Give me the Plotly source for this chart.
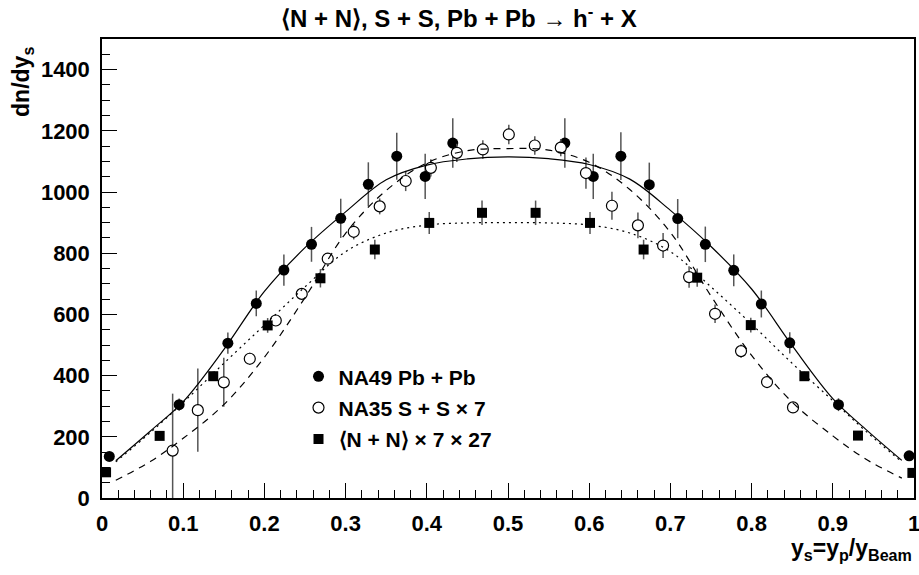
import plotly.graph_objects as go

# ---------------- data ----------------
# NA49 Pb + Pb (filled circles)
pb_x = [0.009, 0.095, 0.155, 0.190, 0.224, 0.258, 0.294, 0.328, 0.363, 0.398, 0.432,
        0.570, 0.605, 0.639, 0.674, 0.709, 0.743, 0.778, 0.812, 0.847, 0.907, 0.994]
pb_y = [136, 305, 506, 636, 745, 829, 914, 1025, 1117, 1051, 1160,
        1160, 1051, 1117, 1024, 913, 829, 744, 634, 507, 305, 138]
pb_e = [10, 20, 35, 42, 51, 57, 64, 72, 77, 74, 81,
        81, 74, 78, 72, 64, 58, 52, 44, 35, 21, 10]

# NA35 S + S x 7 (open circles)
ss_x = [0.087, 0.118, 0.150, 0.182, 0.214, 0.246, 0.278, 0.310, 0.342, 0.374, 0.405,
        0.437, 0.469, 0.501, 0.533, 0.565, 0.596, 0.628, 0.660, 0.691, 0.723, 0.755,
        0.787, 0.819, 0.851]
ss_y = [155, 287, 378, 455, 580, 667, 782, 870, 953, 1036, 1079,
        1128, 1139, 1188, 1152, 1145, 1062, 955, 891, 825, 722, 602,
        480, 379, 296]
ss_e = [186, 136, 80, 20, 15, 15, 17, 25, 26, 33, 28,
        30, 30, 32, 30, 28, 51, 46, 42, 41, 35, 30,
        22, 10, 8]

# <N + N> x 7 x 27 (filled squares)
nn_x = [0.005, 0.071, 0.137, 0.204, 0.269, 0.336, 0.403, 0.468,
        0.534, 0.601, 0.667, 0.733, 0.799, 0.865, 0.931, 0.998]
nn_y = [84, 203, 398, 564, 718, 812, 899, 932,
        932, 899, 812, 720, 565, 398, 204, 82]
nn_e = [4, 8, 15, 24, 30, 32, 36, 40,
        40, 36, 32, 30, 24, 15, 8, 4]

# fitted curves
curve_x = [0.017, 0.06, 0.10, 0.15, 0.20, 0.25, 0.30, 0.35, 0.40, 0.45, 0.50,
           0.55, 0.60, 0.65, 0.70, 0.75, 0.80, 0.85, 0.90, 0.94, 0.985]
solid_y = [122, 220, 315, 485, 675, 818, 935, 1040, 1088, 1108, 1115,
           1109, 1090, 1042, 940, 822, 683, 498, 325, 226, 123]
dashed_y = [58, 120, 195, 305, 460, 655, 865, 1005, 1095, 1135, 1142,
            1137, 1097, 1008, 868, 660, 466, 313, 203, 128, 65]
dotted_y = [118, 215, 312, 440, 565, 690, 805, 866, 892, 899, 900,
            899, 892, 866, 805, 690, 568, 440, 318, 220, 118]

x_ticks = [0, 0.1, 0.2, 0.3, 0.4, 0.5, 0.6, 0.7, 0.8, 0.9, 1]
x_tick_text = ["0", "0.1", "0.2", "0.3", "0.4", "0.5", "0.6", "0.7", "0.8", "0.9", "1"]
y_ticks = [0, 200, 400, 600, 800, 1000, 1200, 1400]

title_text = "⟨N + N⟩, S + S, Pb + Pb → h<sup>-</sup> + X"
legend_names = ["NA49 Pb + Pb", "NA35 S + S × 7", "⟨N + N⟩ × 7 × 27"]

# ---------------- figure ----------------
FONT = "Liberation Sans, Arial, sans-serif"
ERR_COL = "#555555"

fig = go.Figure()

def err(e):
    return dict(type="data", array=e, visible=True, color=ERR_COL, thickness=1.5, width=0)

fig.add_trace(go.Scatter(x=pb_x, y=pb_y, mode="markers", name=legend_names[0],
                         error_y=err(pb_e), legendgroup="a",
                         marker=dict(symbol="circle", size=11, color="black")))
fig.add_trace(go.Scatter(x=ss_x, y=ss_y, mode="markers", name=legend_names[1],
                         error_y=err(ss_e), legendgroup="b",
                         marker=dict(symbol="circle", size=11, color="white",
                                     line=dict(color="black", width=1.2))))
fig.add_trace(go.Scatter(x=nn_x, y=nn_y, mode="markers", name=legend_names[2],
                         error_y=err(nn_e), legendgroup="c",
                         marker=dict(symbol="square", size=10, color="black")))

fig.add_trace(go.Scatter(x=curve_x, y=solid_y, mode="lines", showlegend=False,
                         line=dict(color="black", width=1.2, shape="spline", smoothing=1.0)))
fig.add_trace(go.Scatter(x=curve_x, y=dashed_y, mode="lines", showlegend=False,
                         line=dict(color="black", width=1.2, dash="7px,6px", shape="spline", smoothing=1.0)))
fig.add_trace(go.Scatter(x=curve_x, y=dotted_y, mode="lines", showlegend=False,
                         line=dict(color="black", width=1.2, dash="2px,4px", shape="spline", smoothing=1.0)))

axis_common = dict(showgrid=False, zeroline=False, showline=True, linecolor="black",
                   linewidth=1.5, mirror=True, ticks="inside", ticklen=15, tickwidth=1,
                   tickcolor="black", ticklabeloverflow="allow",
                   tickfont=dict(family=FONT, size=22, color="black", weight="bold"))

fig.update_xaxes(range=[0, 1], tickvals=x_ticks, ticktext=x_tick_text,
                 minor=dict(dtick=0.02, ticks="inside", ticklen=8, tickwidth=1, tickcolor="black"),
                 ticklabelstandoff=5, **axis_common)
fig.update_yaxes(range=[0, 1500], tickvals=y_ticks,
                 minor=dict(dtick=50, ticks="inside", ticklen=8, tickwidth=1, tickcolor="black"),
                 ticklabelstandoff=6, **axis_common)

fig.update_layout(
    width=919, height=575,
    margin=dict(l=102, r=5, t=39, b=77, autoexpand=False),
    plot_bgcolor="white", paper_bgcolor="white",
    font=dict(family=FONT, color="black"),
    showlegend=True,
    legend=dict(x=0.242, y=0.309, xanchor="left", yanchor="top", bgcolor="rgba(0,0,0,0)",
                font=dict(family=FONT, size=21, color="black", weight="bold"),
                tracegroupgap=1),
    annotations=[
        dict(text=title_text, xref="paper", yref="paper", x=0.44, y=1.0, yshift=22,
             xanchor="center", yanchor="middle", showarrow=False,
             font=dict(family=FONT, size=24, color="black", weight="bold")),
        dict(text="dn/dy<sub>s</sub>", xref="paper", yref="paper", x=-0.098, y=0.988,
             xanchor="center", yanchor="top", textangle=-90, showarrow=False,
             font=dict(family=FONT, size=23, color="black", weight="bold")),
        dict(text="y<sub>s</sub>=y<sub>p</sub>/y<sub>Beam</sub>", xref="paper", yref="paper",
             x=1.0, y=-0.112, xanchor="right", yanchor="middle", showarrow=False,
             font=dict(family=FONT, size=23, color="black", weight="bold")),
    ],
)

fig.write_html("out.html")
